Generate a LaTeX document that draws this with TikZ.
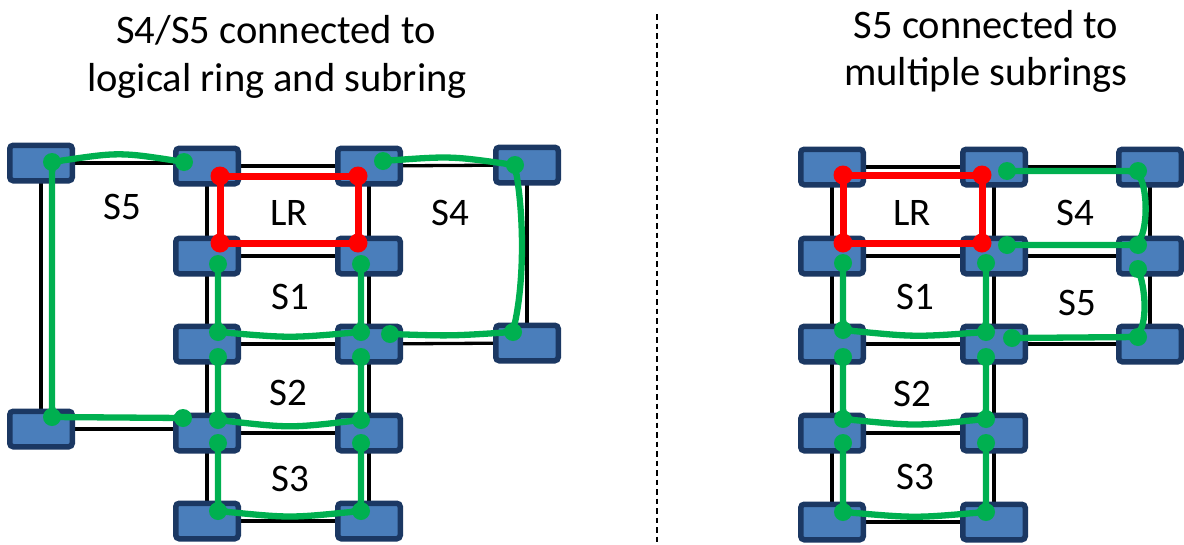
\documentclass[tikz,border=0pt]{standalone}
\usepackage{fontspec}
\setmainfont{Carlito}
\definecolor{boxfill}{RGB}{74,126,187}
\definecolor{boxline}{RGB}{27,56,99}
\definecolor{ringgreen}{RGB}{0,176,80}
\definecolor{ringred}{RGB}{255,0,0}
\begin{document}
\begin{tikzpicture}[x=1pt,y=-1pt,
  sw/.style={rectangle, draw=boxline, fill=boxfill, line width=5.5pt, rounded corners=3.5pt, minimum width=62.5pt, minimum height=35.5pt, inner sep=0pt},
  link/.style={draw=black, line width=3.3pt},
  gring/.style={draw=ringgreen, line width=6.3pt, rounded corners=10pt, line cap=round, line join=round},
  rring/.style={draw=ringred, line width=7pt, line join=round},
  gdot/.style={circle, fill=ringgreen, inner sep=0pt, minimum size=18pt},
  rdot/.style={circle, fill=ringred, inner sep=0pt, minimum size=19pt},
  lbl/.style={font=\fontsize{39}{46}\selectfont, inner sep=0pt},
  ttl/.style={font=\fontsize{40.5}{48}\selectfont, inner sep=0pt, anchor=base},
  divider/.style={draw=black, line width=1.5pt, dash pattern=on 5.5pt off 4pt}
]
\useasboundingbox (0,0) rectangle (1184,544);

% ---------- titles ----------
\node[ttl] (t1a) at (276,43) {S4/S5 connected to};
\node[ttl] (t1b) at (277,91) {logical ring and subring};
\node[ttl] (t2a) at (986,38) {S5 connected to};
\node[ttl] (t2b) at (986,85) {multiple subrings};

% ---------- divider ----------
\coordinate (dtop) at (657,14);
\coordinate (dbot) at (657,544);
\draw[divider] (dtop) -- (dbot);

% ---------- left switches (positions) ----------
\coordinate (pA) at (41,163);
\coordinate (pA2) at (41,429);
\coordinate (pB1) at (207,166);
\coordinate (pB2) at (207,256);
\coordinate (pB3) at (207,344);
\coordinate (pB4) at (207,433);
\coordinate (pB5) at (207,521);
\coordinate (pC1) at (369,166);
\coordinate (pC2) at (369,256);
\coordinate (pC3) at (369,344);
\coordinate (pC4) at (369,433);
\coordinate (pC5) at (369,521);
\coordinate (pD1) at (527,165);
\coordinate (pD3) at (527,343);

% ---------- right switches (positions) ----------
\coordinate (qA1) at (832,167);
\coordinate (qA2) at (832,256);
\coordinate (qA3) at (832,344);
\coordinate (qA4) at (832,433);
\coordinate (qA5) at (832,522);
\coordinate (qB1) at (994,167);
\coordinate (qB2) at (994,256);
\coordinate (qB3) at (994,344);
\coordinate (qB4) at (994,433);
\coordinate (qB5) at (994,522);
\coordinate (qC1) at (1150,167);
\coordinate (qC2) at (1150,256);
\coordinate (qC3) at (1150,344);

% ---------- links (left) ----------
\draw[link] (pA) -- (pA -| pB1);
\draw[link] (pA) -- (pA2);
\draw[link] (pA2) -- (pA2 -| pB4);
\draw[link] (pB1) -- (pC1);
\draw[link] (pB2) -- (pC2);
\draw[link] (pB3) -- (pC3);
\draw[link] (pB4) -- (pC4);
\draw[link] (pB5) -- (pC5);
\draw[link] (pB1) -- (pB2);
\draw[link] (pB2) -- (pB3);
\draw[link] (pB3) -- (pB4);
\draw[link] (pB4) -- (pB5);
\draw[link] (pC1) -- (pC2);
\draw[link] (pC2) -- (pC3);
\draw[link] (pC3) -- (pC4);
\draw[link] (pC4) -- (pC5);
\draw[link] (pC1) -- (pD1);
\draw[link] (pD1) -- (pD3);
\draw[link] (pC3) -- (pD3);

% ---------- links (right) ----------
\draw[link] (qA1) -- (qB1);
\draw[link] (qB1) -- (qC1);
\draw[link] (qA2) -- (qB2);
\draw[link] (qB2) -- (qC2);
\draw[link] (qA3) -- (qB3);
\draw[link] (qB3) -- (qC3);
\draw[link] (qA4) -- (qB4);
\draw[link] (qA5) -- (qB5);
\draw[link] (qA1) -- (qA2);
\draw[link] (qA2) -- (qA3);
\draw[link] (qA3) -- (qA4);
\draw[link] (qA4) -- (qA5);
\draw[link] (qB1) -- (qB2);
\draw[link] (qB2) -- (qB3);
\draw[link] (qB3) -- (qB4);
\draw[link] (qB4) -- (qB5);
\draw[link] (qC1) -- (qC2);
\draw[link] (qC2) -- (qC3);

% ---------- switch boxes ----------
\foreach \p in {pA,pA2,pB1,pB2,pB3,pB4,pB5,pC1,pC2,pC3,pC4,pC5,pD1,pD3,
                qA1,qA2,qA3,qA4,qA5,qB1,qB2,qB3,qB4,qB5,qC1,qC2,qC3}
  \node[sw] (sw-\p) at (\p) {};

% ---------- ring points (left) ----------
\coordinate (l5a) at (184,162); \coordinate (l5b) at (52,162);
\coordinate (l5c) at (52,417);  \coordinate (l5d) at (183,418);
\coordinate (llr1) at (220,176); \coordinate (llr2) at (358,176);
\coordinate (llr3) at (358,243); \coordinate (llr4) at (220,243);
\coordinate (l1a) at (218,264); \coordinate (l1b) at (218,332);
\coordinate (l1c) at (361,332); \coordinate (l1d) at (361,264);
\coordinate (l2a) at (218,357); \coordinate (l2b) at (218,420);
\coordinate (l2c) at (361,420); \coordinate (l2d) at (361,357);
\coordinate (l3a) at (218,443); \coordinate (l3b) at (218,511);
\coordinate (l3c) at (361,511); \coordinate (l3d) at (361,443);
\coordinate (l4a) at (383,161); \coordinate (l4b) at (515,165);
\coordinate (l4c) at (513,332); \coordinate (l4d) at (390,334);

% ---------- ring points (right) ----------
\coordinate (rlr1) at (843,175); \coordinate (rlr2) at (982,175);
\coordinate (rlr3) at (982,243); \coordinate (rlr4) at (843,243);
\coordinate (r4a) at (1007,171); \coordinate (r4b) at (1138,171);
\coordinate (r4c) at (1138,245); \coordinate (r4d) at (1007,245);
\coordinate (r5a) at (1138,269); \coordinate (r5b) at (1138,337);
\coordinate (r5c) at (1012,338);
\coordinate (r1a) at (843,263); \coordinate (r1b) at (843,330);
\coordinate (r1c) at (986,332); \coordinate (r1d) at (986,263);
\coordinate (r2a) at (843,357); \coordinate (r2b) at (843,419);
\coordinate (r2c) at (986,419); \coordinate (r2d) at (986,357);
\coordinate (r3a) at (843,443); \coordinate (r3b) at (843,512);
\coordinate (r3c) at (986,512); \coordinate (r3d) at (986,443);

% ---------- rings (left) ----------
\draw[rring] (llr1) -- (llr2) -- (llr3) -- (llr4) -- cycle;
\draw[gring] (l5a) .. controls (120,152) .. (l5b) -- (l5c) -- (l5d);
\draw[gring] (l1a) -- (l1b) .. controls (290,338) .. (l1c) -- (l1d);
\draw[gring] (l2a) -- (l2b) .. controls (290,428) .. (l2c) -- (l2d);
\draw[gring] (l3a) -- (l3b) .. controls (290,518) .. (l3c) -- (l3d);
\draw[gring] (l4a) .. controls (450,156) .. (l4b) .. controls (524,220) and (524,280) .. (l4c) .. controls (450,336) .. (l4d);

% ---------- rings (right) ----------
\draw[rring] (rlr1) -- (rlr2) -- (rlr3) -- (rlr4) -- cycle;
\draw[gring] (r4a) -- (r4b) .. controls (1147,195) and (1147,222) .. (r4c) -- (r4d);
\draw[gring] (r5a) .. controls (1146,290) and (1146,316) .. (r5b) -- (r5c);
\draw[gring] (r1a) -- (r1b) .. controls (915,337) .. (r1c) -- (r1d);
\draw[gring] (r2a) -- (r2b) .. controls (915,426) .. (r2c) -- (r2d);
\draw[gring] (r3a) -- (r3b) .. controls (915,518) .. (r3c) -- (r3d);

% ---------- dots ----------
\foreach \d in {llr1,llr2,llr3,llr4,rlr1,rlr2,rlr3,rlr4}
  \node[rdot] (dot-\d) at (\d) {};
\foreach \d in {l5a,l5b,l5c,l5d,l1a,l1b,l1c,l1d,l2a,l2b,l2c,l2d,l3a,l3b,l3c,l3d,l4a,l4b,l4c,l4d,
                r4a,r4b,r4c,r4d,r5a,r5b,r5c,r1a,r1b,r1c,r1d,r2a,r2b,r2c,r2d,r3a,r3b,r3c,r3d}
  \node[gdot] (dot-\d) at (\d) {};

% ---------- labels ----------
\node[lbl] (lab-l5) at (122,207) {S5};
\node[lbl] (lab-llr) at (289,213) {LR};
\node[lbl] (lab-l4) at (450,213) {S4};
\node[lbl] (lab-l1) at (290,297) {S1};
\node[lbl] (lab-l2) at (288,393) {S2};
\node[lbl] (lab-l3) at (290,479) {S3};
\node[lbl] (lab-rlr) at (912,213) {LR};
\node[lbl] (lab-r4) at (1075,213) {S4};
\node[lbl] (lab-r1) at (915,297) {S1};
\node[lbl] (lab-r5) at (1077,303) {S5};
\node[lbl] (lab-r2) at (912,394) {S2};
\node[lbl] (lab-r3) at (915,477) {S3};
\end{tikzpicture}
\end{document}
